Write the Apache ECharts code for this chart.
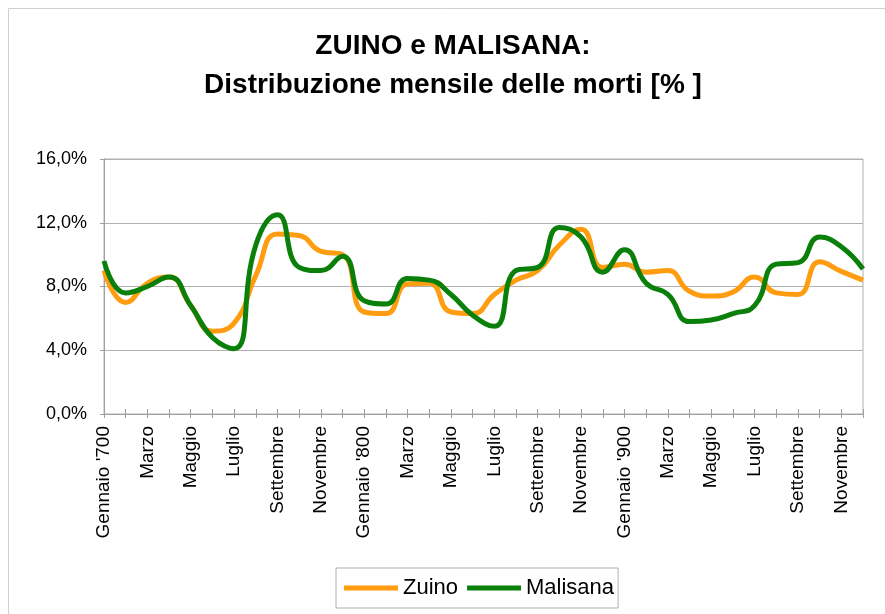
<!DOCTYPE html>
<html>
<head>
<meta charset="utf-8">
<script src="https://cdn.jsdelivr.net/npm/echarts@6/dist/echarts.min.js"></script>
<style>
  html, body { margin: 0; padding: 0; background: #fff; }
  #chart { width: 885px; height: 614px; }
</style>
</head>
<body>
<div id="chart"></div>
<script>
// mesi (3 secoli x 12)
const months = ['Gennaio', 'Febbraio', 'Marzo', 'Aprile', 'Maggio', 'Giugno',
    'Luglio', 'Agosto', 'Settembre', 'Ottobre', 'Novembre', 'Dicembre']
const centuries = ["'700", "'800", "'900"]
const categories = []
centuries.forEach(c => months.forEach((m, i) => categories.push(i === 0 ? m + ' ' + c : m)))

// valori [%]
const zuino = [9.0, 7.0, 8.2, 8.6, 6.8, 5.2, 5.7, 8.7, 11.3, 11.2, 10.2, 10.0,
    6.4, 6.3, 8.15, 8.2, 6.4, 6.3, 7.5, 8.4, 9.0, 10.6, 11.6, 9.2,
    9.4, 8.9, 9.0, 7.7, 7.4, 7.65, 8.6, 7.6, 7.5, 9.55, 8.95, 8.4]
const malisana = [9.6, 7.6, 8.0, 8.6, 6.8, 4.8, 4.1, 10.6, 12.5, 9.2, 9.0, 9.9,
    7.1, 6.9, 8.5, 8.4, 7.5, 6.2, 5.5, 9.0, 9.2, 11.7, 11.1, 8.9,
    10.3, 8.2, 7.5, 5.8, 5.9, 6.3, 6.8, 9.4, 9.5, 11.1, 10.5, 9.1]
const yTicks = [0, 4, 8, 12, 16]

const font = "'Liberation Sans', Arial, sans-serif"
const ec = echarts.init(document.getElementById('chart'))

ec.setOption({
    animation: false,
    textStyle: { fontFamily: font },
    title: {
        text: 'ZUINO e MALISANA:\nDistribuzione mensile delle morti [% ]',
        left: 453,
        top: 27,
        padding: 0,
        textAlign: 'center',
        textStyle: { fontSize: 28, fontWeight: 'bold', color: '#000', lineHeight: 39, fontFamily: font }
    },
    graphic: [{
        type: 'rect',
        shape: { x: 8.5, y: 8.5, width: 1000, height: 800 },
        style: { fill: 'none', stroke: '#d0d0d0', lineWidth: 1 },
        silent: true
    }],
    legend: {
        left: 336,
        top: 568,
        padding: [9, 4, 9, 8],
        itemGap: 9,
        itemWidth: 54,
        itemHeight: 5,
        icon: 'rect',
        borderColor: '#b0b0b0',
        borderWidth: 1,
        textStyle: { fontSize: 22, color: '#000', fontFamily: font },
        data: ['Zuino', 'Malisana']
    },
    grid: {
        left: 104, right: 22, top: 159, bottom: 200,
        show: true, borderColor: '#b0b0b0', borderWidth: 1
    },
    xAxis: [{
        type: 'category',
        data: categories,
        boundaryGap: false,
        axisLine: { lineStyle: { color: '#a0a0a0', width: 1 } },
        axisTick: { show: true, interval: 0, length: 4, lineStyle: { color: '#a0a0a0' } },
        axisLabel: { interval: 1, rotate: 90, margin: 12, fontSize: 19, color: '#000', fontFamily: font },
        splitLine: { show: false }
    }, {
        type: 'category',
        data: categories,
        boundaryGap: false,
        position: 'bottom',
        axisLine: { show: false },
        axisTick: { show: true, inside: true, interval: 0, length: 5, lineStyle: { color: '#a0a0a0' } },
        axisLabel: { show: false },
        splitLine: { show: false }
    }],
    yAxis: {
        type: 'value',
        min: yTicks[0],
        max: yTicks[yTicks.length - 1],
        interval: 4,
        axisLine: { show: true, lineStyle: { color: '#a0a0a0' } },
        axisTick: { show: true, length: 4, lineStyle: { color: '#a0a0a0' } },
        axisLabel: {
            fontSize: 18, color: '#000', margin: 17, fontFamily: font,
            formatter: v => v.toFixed(1).replace('.', ',') + '%'
        },
        splitLine: { lineStyle: { color: '#b0b0b0', width: 1 } }
    },
    series: [{
        name: 'Zuino',
        type: 'line',
        data: zuino,
        smooth: 0.5,
        showSymbol: false,
        lineStyle: { color: '#ff9c0f', width: 5 },
        itemStyle: { color: '#ff9c0f' },
        z: 2
    }, {
        name: 'Malisana',
        type: 'line',
        data: malisana,
        smooth: 0.5,
        showSymbol: false,
        lineStyle: { color: '#0a800a', width: 5 },
        itemStyle: { color: '#0a800a' },
        z: 3
    }]
})
</script>
</body>
</html>
